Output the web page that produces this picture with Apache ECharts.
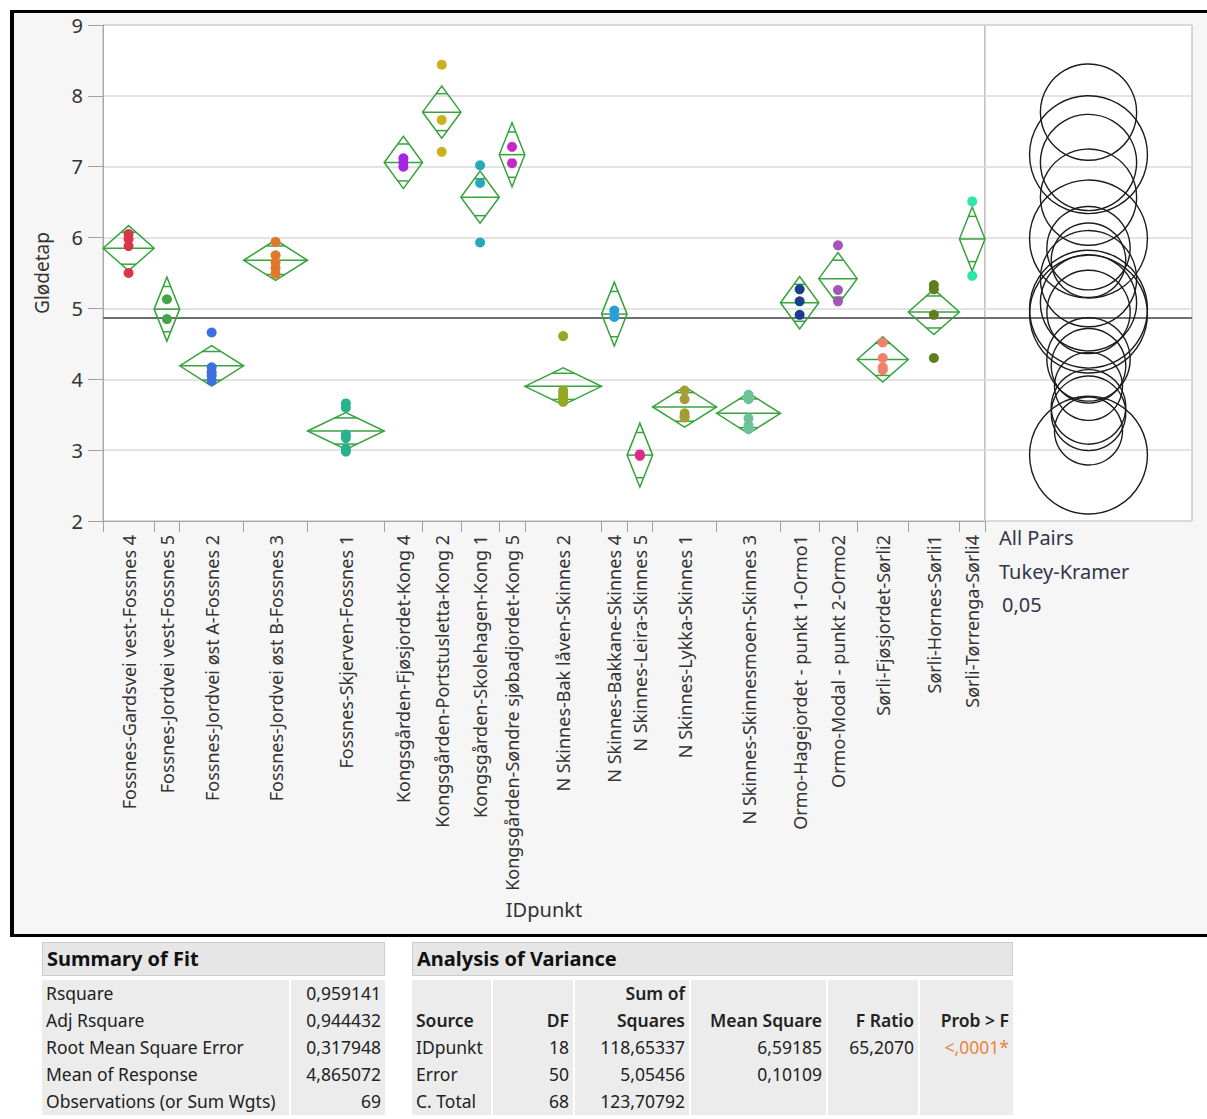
<!DOCTYPE html>
<html>
<head>
<meta charset="utf-8">
<title>Glødetap etter IDpunkt</title>
<script src="https://cdn.jsdelivr.net/npm/echarts@6/dist/echarts.min.js"></script>
<style>
  body { margin: 0; background: #fff; font-family: 'Noto Sans', sans-serif; }
  #page { position: relative; width: 1207px; height: 1119px; overflow: hidden; background: #fff; }
  #panel { position: absolute; left: 14px; top: 13px; width: 1193px; height: 921px; background: #f6f6f6; }
  .bar { position: absolute; background: #000; }
  #chart { position: absolute; left: 0; top: 0; width: 1207px; height: 937px; }
  .cell { position: absolute; background: #ececec; font-size: 17.5px; color: #222; line-height: 27px; height: 27px;
          white-space: nowrap; box-sizing: border-box; padding: 0 4px; }
  .head { position: absolute; background: #e6e6e6; border: 1px solid #cdcdcd; font-weight: bold; font-size: 20px;
          line-height: 32px; height: 34px; box-sizing: border-box; padding-left: 4px; color: #111; }
  .r { text-align: right; }
  .b { font-weight: 600; }
  .p { color: #e8843e; }
</style>
</head>
<body>
<div id="page">
  <div id="panel"></div>
  <div class="bar" style="left:10px;top:10px;width:1197px;height:3px"></div>
  <div class="bar" style="left:10px;top:10px;width:4px;height:927px"></div>
  <div class="bar" style="left:10px;top:934px;width:1197px;height:3px"></div>
  <div id="chart"></div>
  <div id="tables"></div>
</div>
<script>
// ---- Oneway data: Glødetap by IDpunkt ----
const groupNames = [
  'Fossnes-Gardsvei vest-Fossnes 4',
  'Fossnes-Jordvei vest-Fossnes 5',
  'Fossnes-Jordvei øst A-Fossnes 2',
  'Fossnes-Jordvei øst B-Fossnes 3',
  'Fossnes-Skjerven-Fossnes 1',
  'Kongsgården-Fjøsjordet-Kong 4',
  'Kongsgården-Portstusletta-Kong 2',
  'Kongsgården-Skolehagen-Kong 1',
  'Kongsgården-Søndre sjøbadjordet-Kong 5',
  'N Skinnes-Bak låven-Skinnes 2',
  'N Skinnes-Bakkane-Skinnes 4',
  'N Skinnes-Leira-Skinnes 5',
  'N Skinnes-Lykka-Skinnes 1',
  'N Skinnes-Skinnesmoen-Skinnes 3',
  'Ormo-Hagejordet - punkt 1-Ormo1',
  'Ormo-Modal - punkt 2-Ormo2',
  'Sørli-Fjøsjordet-Sørli2',
  'Sørli-Hornes-Sørli1',
  'Sørli-Tørrenga-Sørli4'
];
const groupCounts = [4, 2, 5, 5, 6, 3, 3, 3, 2, 6, 2, 2, 5, 5, 3, 3, 4, 4, 2];
const groupMeans = [5.85, 4.99, 4.19, 5.68, 3.27, 7.06, 7.77, 6.57, 7.17, 3.90,
                    4.92, 2.93, 3.61, 3.52, 5.08, 5.42, 4.28, 4.95, 5.98];
const groupColors = ['#d8364a', '#47a347', '#3d6fe0', '#e0782a', '#27b28e', '#a526e0', '#c9b21e',
                     '#22a9bd', '#c928c9', '#95a822', '#2a9fd6', '#dc2a8c', '#a29d35', '#6cc39a',
                     '#1b3f8f', '#a455b8', '#f0826a', '#5f7f1f', '#2de8a4'];
const observations = [
  [6.05, 5.98, 5.88, 5.50],
  [5.13, 4.85],
  [4.66, 4.17, 4.10, 4.05, 3.98],
  [5.94, 5.75, 5.65, 5.57, 5.49],
  [3.66, 3.60, 3.22, 3.17, 3.02, 2.98],
  [7.12, 7.06, 7.00],
  [8.44, 7.66, 7.21],
  [7.02, 6.77, 5.93],
  [7.28, 7.05],
  [4.61, 3.84, 3.80, 3.76, 3.72, 3.68],
  [4.97, 4.88],
  [2.94, 2.92],
  [3.84, 3.72, 3.52, 3.48, 3.46],
  [3.78, 3.72, 3.45, 3.35, 3.30],
  [5.27, 5.10, 4.91],
  [5.89, 5.26, 5.10],
  [4.52, 4.30, 4.17, 4.13],
  [5.33, 5.27, 4.91, 4.30],
  [6.51, 5.46]
];
const yTicks = [2, 3, 4, 5, 6, 7, 8, 9];

// Fit statistics
const grandMean = 4.865072;
const rmse = 0.317948;
const tCrit = 2.0086;   // t quantile (0.975, df 50) for the means diamonds
const qStar = 3.70;     // Tukey-Kramer critical value, alpha 0.05

const fitLabels = ['Rsquare', 'Adj Rsquare', 'Root Mean Square Error', 'Mean of Response', 'Observations (or Sum Wgts)'];
const fitValues = ['0,959141', '0,944432', '0,317948', '4,865072', '69'];

const anovaSources = ['IDpunkt', 'Error', 'C. Total'];
const anovaDF = ['18', '50', '68'];
const anovaSS = ['118,65337', '5,05456', '123,70792'];
const anovaMS = ['6,59185', '0,10109', ''];
const anovaF = ['65,2070', '', ''];
const anovaP = ['<,0001*', '', ''];

// ---- x scale: each group occupies a width proportional to its count ----
const starts = [];
let acc = 0;
groupCounts.forEach(n => { starts.push(acc); acc += n; });
const total = acc;
const centers = starts.map((s, i) => s + groupCounts[i] / 2);
const bounds = starts.concat([total]);
const nameAt = new Map(centers.map((c, i) => [c, groupNames[i]]));

const GREEN = '#36a33c';
const series = [];

// grand mean line across both panels
series.push({
  type: 'line', xAxisIndex: 0, yAxisIndex: 0, silent: true, symbol: 'none', z: 1,
  lineStyle: { color: '#6f6f6f', width: 2 },
  data: [[0, grandMean], [total, grandMean]]
});
series.push({
  type: 'line', xAxisIndex: 1, yAxisIndex: 1, silent: true, symbol: 'none', z: 1,
  lineStyle: { color: '#6f6f6f', width: 2 },
  data: [[0, grandMean], [1, grandMean]]
});

// means diamonds with overlap marks
series.push({
  type: 'custom', xAxisIndex: 0, yAxisIndex: 0, z: 2, silent: true,
  encode: { x: [0, 1], y: 2 },
  data: groupMeans.map((m, i) => [starts[i], starts[i] + groupCounts[i], m, groupCounts[i]]),
  renderItem: function (params, api) {
    const x0 = api.value(0), x1 = api.value(1), m = api.value(2), n = api.value(3);
    const ci = tCrit * rmse / Math.sqrt(n);
    const ov = ci / Math.SQRT2;
    const xc = (x0 + x1) / 2;
    const half = (x1 - x0) / 2 * (1 - 1 / Math.SQRT2);
    const L = api.coord([x0, m]), R = api.coord([x1, m]);
    const T = api.coord([xc, m + ci]), B = api.coord([xc, m - ci]);
    const u1 = api.coord([xc - half, m + ov]), u2 = api.coord([xc + half, m + ov]);
    const d1 = api.coord([xc - half, m - ov]), d2 = api.coord([xc + half, m - ov]);
    const st = { stroke: GREEN, fill: 'none', lineWidth: 1.5 };
    return {
      type: 'group',
      children: [
        { type: 'polygon', shape: { points: [L, T, R, B] }, style: st },
        { type: 'line', shape: { x1: L[0], y1: L[1], x2: R[0], y2: R[1] }, style: st },
        { type: 'line', shape: { x1: u1[0], y1: u1[1], x2: u2[0], y2: u2[1] }, style: st },
        { type: 'line', shape: { x1: d1[0], y1: d1[1], x2: d2[0], y2: d2[1] }, style: st }
      ]
    };
  }
});

// individual observations
observations.forEach((vals, i) => {
  series.push({
    type: 'scatter', xAxisIndex: 0, yAxisIndex: 0, z: 3, silent: true,
    symbolSize: 10,
    itemStyle: { color: groupColors[i], opacity: 1 },
    data: vals.map(v => [centers[i], v])
  });
});

// comparison circles
series.push({
  type: 'custom', xAxisIndex: 1, yAxisIndex: 1, z: 3, silent: true,
  encode: { x: 0, y: 1 },
  data: groupMeans.map((m, i) => [0.5, m, groupCounts[i]]),
  renderItem: function (params, api) {
    const c = api.coord([api.value(0), api.value(1)]);
    const r = api.size([0, qStar * rmse / Math.sqrt(api.value(2))])[1];
    return { type: 'circle', shape: { cx: c[0], cy: c[1], r: r },
             style: { fill: 'none', stroke: '#1c1c1c', lineWidth: 1.4 } };
  }
});

const chart = echarts.init(document.getElementById('chart'), null, { renderer: 'svg' });
chart.setOption({
  animation: false,
  backgroundColor: 'transparent',
  textStyle: { fontFamily: 'Noto Sans' },
  grid: [
    { left: 103, top: 25, width: 882, height: 496, show: true, backgroundColor: '#fff', borderColor: '#b0b0b0', borderWidth: 1 },
    { left: 985, top: 25, width: 207, height: 496, show: true, backgroundColor: '#fff', borderColor: '#b0b0b0', borderWidth: 1 }
  ],
  xAxis: [
    {
      type: 'value', gridIndex: 0, min: 0, max: total,
      name: 'IDpunkt', nameLocation: 'middle', nameGap: 378,
      nameTextStyle: { fontSize: 20, color: '#333', fontFamily: 'Noto Sans' },
      axisLine: { show: true, lineStyle: { color: '#a8a8a8' } },
      axisTick: { show: true, customValues: bounds, length: 11, lineStyle: { color: '#a0a0a0' } },
      axisLabel: {
        customValues: centers, rotate: 90, margin: 14, fontSize: 18, color: '#333',
        formatter: v => nameAt.get(v) || ''
      },
      splitLine: { show: false }
    },
    { type: 'value', gridIndex: 1, min: 0, max: 1, show: false }
  ],
  yAxis: [
    {
      type: 'value', gridIndex: 0, min: yTicks[0], max: yTicks[yTicks.length - 1], interval: 1,
      name: 'Glødetap', nameLocation: 'middle', nameGap: 52,
      nameTextStyle: { fontSize: 19, color: '#333', fontFamily: 'Noto Sans' },
      axisLine: { show: true, lineStyle: { color: '#a8a8a8' } },
      axisTick: { show: true, length: 15, lineStyle: { color: '#a0a0a0' } },
      axisLabel: { margin: 20, fontSize: 20, color: '#333' },
      splitLine: { show: true, lineStyle: { color: '#dadada', width: 1.5 } }
    },
    {
      type: 'value', gridIndex: 1, min: yTicks[0], max: yTicks[yTicks.length - 1], interval: 1,
      axisLine: { show: false }, axisTick: { show: false }, axisLabel: { show: false },
      splitLine: { show: true, lineStyle: { color: '#dadada', width: 1.5 } }
    }
  ],
  graphic: [
    { type: 'text', left: 999, top: 527, style: { text: 'All Pairs', fontSize: 20, fill: '#33334a', fontFamily: 'Noto Sans' } },
    { type: 'text', left: 999, top: 561, style: { text: 'Tukey-Kramer', fontSize: 20, fill: '#33334a', fontFamily: 'Noto Sans' } },
    { type: 'text', left: 1002, top: 594, style: { text: '0,05', fontSize: 20, fill: '#33334a', fontFamily: 'Noto Sans' } }
  ],
  series: series
});

// ---- report tables below the plot ----
const tables = document.getElementById('tables');
function cell(html, x, y, w, h, cls, extra) {
  const d = document.createElement('div');
  d.className = 'cell ' + (cls || '');
  d.style.left = x + 'px'; d.style.top = y + 'px'; d.style.width = w + 'px';
  if (h) { d.style.height = h + 'px'; }
  if (extra) { Object.assign(d.style, extra); }
  d.innerHTML = html;
  tables.appendChild(d);
  return d;
}
function head(text, x, w) {
  const d = document.createElement('div');
  d.className = 'head';
  d.style.left = x + 'px'; d.style.top = '942px'; d.style.width = w + 'px';
  d.textContent = text;
  tables.appendChild(d);
}

head('Summary of Fit', 42, 343);
fitLabels.forEach((lab, i) => {
  const y = 980 + i * 27;
  cell(lab, 42, y, 247);
  cell(fitValues[i], 291, y, 94, 0, 'r');
});

head('Analysis of Variance', 412, 601);
const cols = [
  { x: 412, w: 79, title: 'Source', vals: anovaSources, align: '' },
  { x: 493, w: 80, title: 'DF', vals: anovaDF, align: 'r' },
  { x: 575, w: 114, title: 'Sum of<br>Squares', vals: anovaSS, align: 'r' },
  { x: 691, w: 135, title: 'Mean Square', vals: anovaMS, align: 'r' },
  { x: 828, w: 90, title: 'F Ratio', vals: anovaF, align: 'r' },
  { x: 920, w: 93, title: 'Prob > F', vals: anovaP, align: 'r' }
];
cols.forEach(c => {
  cell('<div style="position:absolute;bottom:0;' + (c.align === 'r' ? 'right:4px;text-align:right' : 'left:4px') + '">' + c.title + '</div>',
       c.x, 980, c.w, 54, 'b', { lineHeight: '27px' });
  c.vals.forEach((v, i) => {
    const txt = v && c.title === 'Prob > F' ? '<span class="p">' + v.replace('<', '&lt;') + '</span>' : v;
    cell(txt, c.x, 1034 + i * 27, c.w, 0, c.align);
  });
});
</script>
</body>
</html>
